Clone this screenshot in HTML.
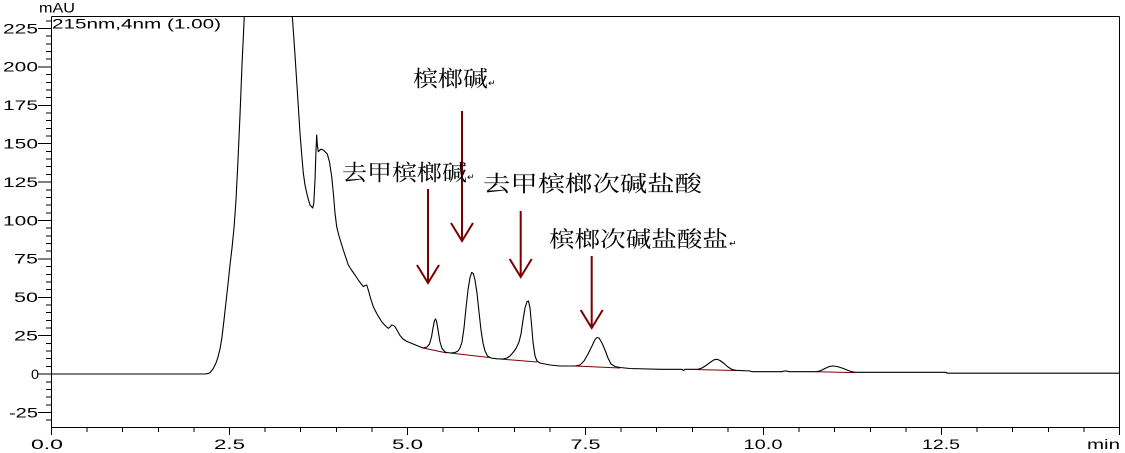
<!DOCTYPE html>
<html><head><meta charset="utf-8"><style>
html,body{margin:0;padding:0;background:#fff;}
svg{display:block;}
.ax{font-family:"Liberation Sans",Arial,sans-serif;font-size:13.5px;fill:#000;}
.cn{font-family:"Liberation Serif","Noto Serif CJK SC","Noto Sans CJK SC",serif;font-size:22px;fill:#000;}
.rt{font-family:"Liberation Sans","DejaVu Sans",sans-serif;font-size:9px;fill:#000;}
</style></head><body>
<svg width="1125" height="453" viewBox="0 0 1125 453" xmlns="http://www.w3.org/2000/svg">
<rect width="1125" height="453" fill="#fff"/>
<defs><clipPath id="pc"><rect x="51" y="16" width="1069" height="412"/></clipPath></defs>

<!-- frame -->
<g stroke="#000" stroke-width="1" shape-rendering="crispEdges" fill="none">
<line x1="51.5" y1="16.5" x2="1119.5" y2="16.5"/>
<line x1="1119.5" y1="16.5" x2="1119.5" y2="427.5"/>
<line x1="51.5" y1="16.5" x2="51.5" y2="427.5"/>
<line x1="51.5" y1="427.5" x2="1119.5" y2="427.5"/>
</g>

<!-- y ticks -->
<g stroke="#000" stroke-width="1" shape-rendering="crispEdges">
<line x1="38" y1="28.5" x2="51" y2="28.5"/><line x1="38" y1="66.9" x2="51" y2="66.9"/><line x1="38" y1="105.3" x2="51" y2="105.3"/><line x1="38" y1="143.7" x2="51" y2="143.7"/><line x1="38" y1="182.1" x2="51" y2="182.1"/><line x1="38" y1="220.5" x2="51" y2="220.5"/><line x1="38" y1="258.9" x2="51" y2="258.9"/><line x1="38" y1="297.3" x2="51" y2="297.3"/><line x1="38" y1="335.7" x2="51" y2="335.7"/><line x1="38" y1="374.1" x2="51" y2="374.1"/><line x1="38" y1="412.5" x2="51" y2="412.5"/>
<line x1="46" y1="20.8" x2="51" y2="20.8"/><line x1="46" y1="36.2" x2="51" y2="36.2"/><line x1="46" y1="43.9" x2="51" y2="43.9"/><line x1="46" y1="51.5" x2="51" y2="51.5"/><line x1="46" y1="59.2" x2="51" y2="59.2"/>
<line x1="46" y1="74.6" x2="51" y2="74.6"/><line x1="46" y1="82.3" x2="51" y2="82.3"/><line x1="46" y1="89.9" x2="51" y2="89.9"/><line x1="46" y1="97.6" x2="51" y2="97.6"/>
<line x1="46" y1="113.0" x2="51" y2="113.0"/><line x1="46" y1="120.7" x2="51" y2="120.7"/><line x1="46" y1="128.3" x2="51" y2="128.3"/><line x1="46" y1="136.0" x2="51" y2="136.0"/>
<line x1="46" y1="151.4" x2="51" y2="151.4"/><line x1="46" y1="159.1" x2="51" y2="159.1"/><line x1="46" y1="166.7" x2="51" y2="166.7"/><line x1="46" y1="174.4" x2="51" y2="174.4"/>
<line x1="46" y1="189.8" x2="51" y2="189.8"/><line x1="46" y1="197.5" x2="51" y2="197.5"/><line x1="46" y1="205.1" x2="51" y2="205.1"/><line x1="46" y1="212.8" x2="51" y2="212.8"/>
<line x1="46" y1="228.2" x2="51" y2="228.2"/><line x1="46" y1="235.9" x2="51" y2="235.9"/><line x1="46" y1="243.5" x2="51" y2="243.5"/><line x1="46" y1="251.2" x2="51" y2="251.2"/>
<line x1="46" y1="266.6" x2="51" y2="266.6"/><line x1="46" y1="274.3" x2="51" y2="274.3"/><line x1="46" y1="281.9" x2="51" y2="281.9"/><line x1="46" y1="289.6" x2="51" y2="289.6"/>
<line x1="46" y1="305.0" x2="51" y2="305.0"/><line x1="46" y1="312.7" x2="51" y2="312.7"/><line x1="46" y1="320.3" x2="51" y2="320.3"/><line x1="46" y1="328.0" x2="51" y2="328.0"/>
<line x1="46" y1="343.4" x2="51" y2="343.4"/><line x1="46" y1="351.1" x2="51" y2="351.1"/><line x1="46" y1="358.7" x2="51" y2="358.7"/><line x1="46" y1="366.4" x2="51" y2="366.4"/>
<line x1="46" y1="381.8" x2="51" y2="381.8"/><line x1="46" y1="389.5" x2="51" y2="389.5"/><line x1="46" y1="397.1" x2="51" y2="397.1"/><line x1="46" y1="404.8" x2="51" y2="404.8"/>
<line x1="46" y1="420.2" x2="51" y2="420.2"/>
</g>

<!-- x ticks -->
<g stroke="#000" stroke-width="1" shape-rendering="crispEdges">
<line x1="51.5" y1="427" x2="51.5" y2="435"/><line x1="229.5" y1="427" x2="229.5" y2="435"/><line x1="407.5" y1="427" x2="407.5" y2="435"/><line x1="585.5" y1="427" x2="585.5" y2="435"/><line x1="763.5" y1="427" x2="763.5" y2="435"/><line x1="941.5" y1="427" x2="941.5" y2="435"/><line x1="1119.5" y1="427" x2="1119.5" y2="435"/>
<line x1="87.1" y1="427" x2="87.1" y2="432"/><line x1="122.7" y1="427" x2="122.7" y2="432"/><line x1="158.3" y1="427" x2="158.3" y2="432"/><line x1="193.9" y1="427" x2="193.9" y2="432"/>
<line x1="265.1" y1="427" x2="265.1" y2="432"/><line x1="300.7" y1="427" x2="300.7" y2="432"/><line x1="336.3" y1="427" x2="336.3" y2="432"/><line x1="371.9" y1="427" x2="371.9" y2="432"/>
<line x1="443.1" y1="427" x2="443.1" y2="432"/><line x1="478.7" y1="427" x2="478.7" y2="432"/><line x1="514.3" y1="427" x2="514.3" y2="432"/><line x1="549.9" y1="427" x2="549.9" y2="432"/>
<line x1="621.1" y1="427" x2="621.1" y2="432"/><line x1="656.7" y1="427" x2="656.7" y2="432"/><line x1="692.3" y1="427" x2="692.3" y2="432"/><line x1="727.9" y1="427" x2="727.9" y2="432"/>
<line x1="799.1" y1="427" x2="799.1" y2="432"/><line x1="834.7" y1="427" x2="834.7" y2="432"/><line x1="870.3" y1="427" x2="870.3" y2="432"/><line x1="905.9" y1="427" x2="905.9" y2="432"/>
<line x1="977.1" y1="427" x2="977.1" y2="432"/><line x1="1012.7" y1="427" x2="1012.7" y2="432"/><line x1="1048.3" y1="427" x2="1048.3" y2="432"/><line x1="1083.9" y1="427" x2="1083.9" y2="432"/>
</g>

<!-- y labels -->
<g class="ax" text-anchor="end">
<text x="38" y="33.3" textLength="35" lengthAdjust="spacingAndGlyphs">225</text>
<text x="38" y="71.7" textLength="35" lengthAdjust="spacingAndGlyphs">200</text>
<text x="38" y="110.1" textLength="35" lengthAdjust="spacingAndGlyphs">175</text>
<text x="38" y="148.5" textLength="35" lengthAdjust="spacingAndGlyphs">150</text>
<text x="38" y="186.9" textLength="35" lengthAdjust="spacingAndGlyphs">125</text>
<text x="38" y="225.3" textLength="35" lengthAdjust="spacingAndGlyphs">100</text>
<text x="38" y="263.7" textLength="24" lengthAdjust="spacingAndGlyphs">75</text>
<text x="38" y="302.1" textLength="24" lengthAdjust="spacingAndGlyphs">50</text>
<text x="38" y="340.5" textLength="24" lengthAdjust="spacingAndGlyphs">25</text>
<text x="39" y="378.9" textLength="8" lengthAdjust="spacingAndGlyphs">0</text>
<text x="38" y="417.3" textLength="29" lengthAdjust="spacingAndGlyphs">-25</text>
</g>

<!-- x labels -->
<g class="ax" text-anchor="middle">
<text x="47" y="449" textLength="32" lengthAdjust="spacingAndGlyphs">0.0</text>
<text x="229.5" y="449" textLength="31" lengthAdjust="spacingAndGlyphs">2.5</text>
<text x="407.5" y="449" textLength="31" lengthAdjust="spacingAndGlyphs">5.0</text>
<text x="585.5" y="449" textLength="30" lengthAdjust="spacingAndGlyphs">7.5</text>
<text x="763" y="449" textLength="39" lengthAdjust="spacingAndGlyphs">10.0</text>
<text x="941" y="449" textLength="38" lengthAdjust="spacingAndGlyphs">12.5</text>
</g>
<text class="ax" x="1087" y="449" textLength="33" lengthAdjust="spacingAndGlyphs">min</text>

<text class="ax" x="39" y="12.5" textLength="36" lengthAdjust="spacingAndGlyphs">mAU</text>
<text class="ax" x="52" y="28.5" textLength="169" lengthAdjust="spacingAndGlyphs">215nm,4nm (1.00)</text>

<!-- integration baselines -->
<g stroke="#800000" stroke-width="1" fill="none">
<line x1="423" y1="348" x2="447" y2="353"/>
<line x1="450" y1="353" x2="489" y2="357.5"/>
<line x1="500" y1="359" x2="537" y2="362"/>
<line x1="575" y1="366" x2="620" y2="368"/>
<line x1="698" y1="369.6" x2="736" y2="370.5"/>
<line x1="817" y1="371.8" x2="855" y2="372.6"/>
</g>

<!-- chromatogram -->
<path clip-path="url(#pc)" fill="none" stroke="#000" stroke-width="1.1" stroke-linejoin="round" d="M51.5,374 L205,374 L208,373.6 L210,372.6 L213,369 L216,363 L218,357 L220,349 L222,337 L224,320 L226,302 L228,284 L230,265 L232,248 L234,228 L236,200 L238,160 L240,115 L242,65 L244.3,16 L245.2,-10 L290.5,-10 L292.3,16 L295,55 L297.7,97 L300,133 L302,158 L303.3,173 L305,185 L306.7,193 L308.5,200 L310,205 L312.7,208 L313.8,203 L315,180 L316,150 L316.7,135 L317.3,145 L318.3,151.7 L320.7,149.3 L322.5,149.5 L324,150.7 L327.3,154 L329.5,162 L331.7,176.7 L333.5,195 L335,213 L336.7,226.7 L339,236 L343.3,250 L348.3,265 L351.5,270 L355,275 L359,281 L363.3,286.7 L365,285.5 L366.7,285 L368.3,290 L370.5,298 L373.3,306.7 L377,314 L381.7,321.7 L385,325.5 L388.3,328.3 L390,327 L391.7,325 L393.5,325.5 L395,326.7 L397.5,331 L400,335.5 L403,339 L407,341.5 L412,343.5 L418,346 L423,348 L427,347 L429.5,344 L431.5,337 L433,328 L434.5,320.5 L435.5,319 L436.5,321 L438,330 L440,342 L442,348.5 L445,352 L450,353 L455,352.5 L458,351 L460,348 L462,342 L464,328 L466,308 L468,290 L470,277.5 L471.7,272.5 L473.3,273.5 L475,280 L477,293 L479,312 L481,330 L483,343 L485,351 L487.5,356 L491,358 L497,358.8 L503,359 L507,358 L510,356 L513,352.5 L516,348.5 L519,342 L521,334 L523,320 L525,308 L527,301.5 L528.5,301 L530,308 L531.5,324 L533,342 L535,356 L537,361 L540,363 L550,365 L560,366 L575,366 L580,365 L584,361 L588,354 L592,346 L595,339.5 L597,337.5 L599,338 L602,343 L605,350 L608,358 L611,364 L615,366.5 L620,367.5 L630,368.5 L660,369.3 L682,369.3 L683.5,370.6 L685,369.3 L698,369.3 L702,368 L706,365.5 L710,362.5 L714,359.8 L717,359.3 L720,360.5 L724,363.5 L728,367 L732,369.5 L736,370.3 L750,371 L752,371.7 L782,371.7 L784,371.1 L787,371.1 L789,371.7 L817,371.7 L821,370.5 L825,368.5 L829,366.6 L833,366 L837,366.5 L842,368 L847,370 L851,371.5 L855,372.3 L946,372.3 L947,373.2 L1119,373.2"/>

<!-- arrows -->
<g stroke="#7a0000" stroke-width="2" fill="none" stroke-linecap="butt" stroke-linejoin="miter">
<line x1="428" y1="189" x2="428" y2="283"/><polyline points="417,265 428,283 439,265"/>
<line x1="462" y1="111" x2="462" y2="241"/><polyline points="451,223 462,241 473,223"/>
<line x1="520.7" y1="211" x2="520.7" y2="277"/><polyline points="509.7,259 520.7,277 531.7,259"/>
<line x1="591.7" y1="256" x2="591.7" y2="328"/><polyline points="580.7,310 591.7,328 602.7,310"/>
</g>

<!-- Chinese labels -->
<text class="cn" x="413" y="86.5" textLength="75" lengthAdjust="spacingAndGlyphs">槟榔碱</text>
<text class="rt" x="488" y="86">↵</text>
<text class="cn" x="342" y="180.5" textLength="125" lengthAdjust="spacingAndGlyphs">去甲槟榔碱</text>
<text class="rt" x="467" y="180">↵</text>
<text class="cn" x="483" y="191.5" textLength="219" lengthAdjust="spacingAndGlyphs">去甲槟榔次碱盐酸</text>
<text class="cn" x="549" y="247" textLength="179" lengthAdjust="spacingAndGlyphs">槟榔次碱盐酸盐</text>
<text class="rt" x="729" y="246.5">↵</text>
</svg>
</body></html>
